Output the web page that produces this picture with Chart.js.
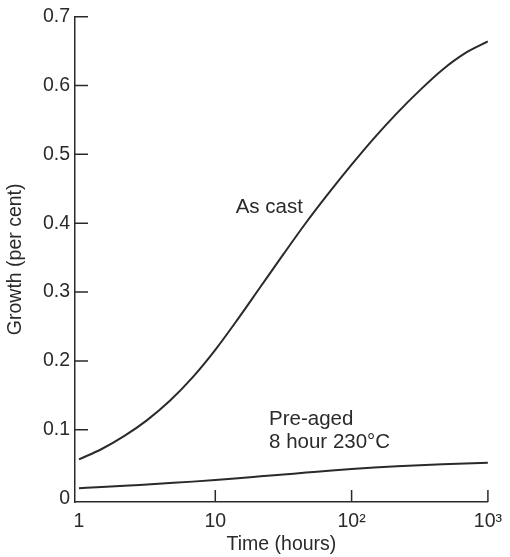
<!DOCTYPE html>
<html>
<head>
<meta charset="utf-8">
<script src="https://cdn.jsdelivr.net/npm/chart.js@4/dist/chart.umd.min.js"></script>
<style>
html,body{margin:0;padding:0;background:#fff;}
#wrap{width:510px;height:557px;position:relative;}
</style>
</head>
<body>
<div id="wrap"><canvas id="c"></canvas></div>
<script>
// Data (time in hours, growth in per cent)
const timePoints = [1, 1.468, 2.154, 3.162, 4.642, 6.813, 10, 14.68, 21.54, 31.62, 46.42, 68.13, 100, 146.8, 215.4, 316.2, 464.2, 681.3, 1000];
const asCastGrowth  = [0.057, 0.072, 0.091, 0.114, 0.142, 0.176, 0.216, 0.261, 0.308, 0.355, 0.401, 0.444, 0.485, 0.524, 0.560, 0.593, 0.623, 0.647, 0.664];
const preAgedGrowth = [0.015, 0.0167, 0.0185, 0.0205, 0.0225, 0.0246, 0.027, 0.0296, 0.0323, 0.035, 0.0377, 0.0404, 0.043, 0.045, 0.0468, 0.0484, 0.0498, 0.051, 0.052];
const xTickValues = [1, 10, 100, 1000];
const xTickLabels = ['1', '10', '10²', '10³'];
const yTickValues = [0, 0.1, 0.2, 0.3, 0.4, 0.5, 0.6, 0.7];
const yTickLabels = ['0', '0.1', '0.2', '0.3', '0.4', '0.5', '0.6', '0.7'];
const curveLabels = [
  {text: 'As cast', x: 14.1, y: 0.423},
  {text: 'Pre-aged', x: 24.8, y: 0.115},
  {text: '8 hour 230°C', x: 24.8, y: 0.081}
];

const FONT = '"Liberation Sans", Arial, Helvetica, sans-serif';
const INK = '#2a2a2a';

const inwardTicks = {
  id: 'inwardTicks',
  afterDraw(chart) {
    const ctx = chart.ctx;
    const xs = chart.scales.x, ys = chart.scales.y;
    const area = chart.chartArea;
    ctx.save();
    ctx.strokeStyle = INK;
    ctx.lineWidth = 1.5;
    ctx.beginPath();
    yTickValues.forEach(v => {
      if (v <= 0) return;
      const py = ys.getPixelForValue(v);
      ctx.moveTo(area.left, py);
      ctx.lineTo(area.left + 13, py);
    });
    xTickValues.forEach(v => {
      if (v <= 1) return;
      const px = xs.getPixelForValue(v);
      ctx.moveTo(px, area.bottom);
      ctx.lineTo(px, area.bottom - 12);
    });
    ctx.stroke();
    ctx.fillStyle = INK;
    ctx.font = '20.5px ' + FONT;
    ctx.textAlign = 'left';
    ctx.textBaseline = 'middle';
    curveLabels.forEach(l => {
      ctx.fillText(l.text, xs.getPixelForValue(l.x), ys.getPixelForValue(l.y));
    });
    ctx.restore();
  }
};

const mk = (arr) => timePoints.map((t, i) => ({x: t, y: arr[i]}));

new Chart(document.getElementById('c'), {
  type: 'line',
  data: {
    datasets: [
      {label: 'As cast', data: mk(asCastGrowth),
       borderColor: INK, borderWidth: 2, pointRadius: 0, cubicInterpolationMode: 'monotone', fill: false},
      {label: 'Pre-aged 8 hour 230°C', data: mk(preAgedGrowth),
       borderColor: INK, borderWidth: 2, pointRadius: 0, cubicInterpolationMode: 'monotone', fill: false}
    ]
  },
  options: {
    responsive: true,
    maintainAspectRatio: false,
    animation: false,
    layout: {padding: {top: 14, right: 16, left: 0, bottom: 0}},
    plugins: {legend: {display: false}, tooltip: {enabled: false}},
    scales: {
      x: {
        type: 'logarithmic',
        min: 0.935,
        max: 1000,
        grid: {display: false, drawTicks: false},
        border: {display: true, color: INK, width: 1.5},
        afterBuildTicks(scale) { scale.ticks = xTickValues.map(v => ({value: v})); },
        afterFit(scale) { scale.height = 55; },
        ticks: {
          color: INK, font: {family: FONT, size: 19.5}, padding: 8, maxRotation: 0,
          callback(value) { const i = xTickValues.indexOf(value); return i >= 0 ? xTickLabels[i] : ''; }
        },
        title: {display: true, text: 'Time (hours)', color: INK, font: {family: FONT, size: 19.5}, padding: {top: 0, bottom: 1}}
      },
      y: {
        type: 'linear',
        min: -0.005,
        max: 0.7,
        grid: {display: false, drawTicks: false},
        border: {display: true, color: INK, width: 1.5},
        afterBuildTicks(scale) { scale.ticks = yTickValues.map(v => ({value: v})); },
        afterFit(scale) { scale.width = 75; },
        ticks: {
          color: INK, font: {family: FONT, size: 19.5}, padding: 5,
          callback(value) { const i = yTickValues.indexOf(value); return i >= 0 ? yTickLabels[i] : ''; }
        },
        title: {display: true, text: 'Growth (per cent)', color: INK, font: {family: FONT, size: 19.5}, padding: {top: 4, bottom: 4}}
      }
    }
  },
  plugins: [inwardTicks]
});
</script>
</body>
</html>
